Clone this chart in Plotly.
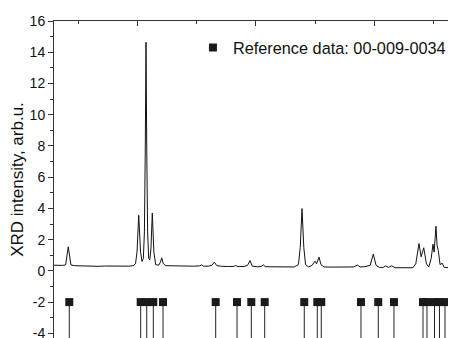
import plotly.graph_objects as go

two_theta = [5.94, 6.5, 7.4, 7.9, 8.35, 8.8, 9.4, 10.5, 11.5, 12.5, 13.5, 14.5, 15.5, 16.5,
             17.5, 18.5, 19.3, 19.7, 19.95, 20.24, 20.55, 20.8, 21.02, 21.2, 21.35, 21.47,
             21.59, 21.74, 21.92, 22.1, 22.3, 22.53, 22.8, 23.1, 23.6, 23.9, 24.12, 24.4,
             24.8, 25.5, 26.5, 27.5, 28.5, 29.5, 30.5, 30.87, 31.2, 32.0, 32.6, 33.0, 33.4,
             34.2, 35.2, 36.2, 36.61, 37.0, 38.0, 38.6, 39.02, 39.4, 40.3, 40.9, 41.27, 41.6,
             42.5, 43.5, 44.5, 45.5, 46.5, 47.2, 47.5, 47.8, 48.1, 48.4, 48.9, 49.5, 49.99,
             50.25, 50.67, 51.0, 51.5, 52.5, 53.5, 54.5, 55.5, 56.5, 57.13, 57.6, 58.3, 58.82,
             59.3, 59.83, 60.3, 60.9, 61.5, 61.89, 62.4, 62.94, 63.5, 64.5, 65.5, 66.5, 67.0,
             67.54, 67.9, 68.34, 68.8, 69.2, 69.6, 69.91, 70.1, 70.41, 70.6, 70.8, 71.1, 71.46,
             71.8, 72.5, 73.62]
intensity = [0.36, 0.34, 0.35, 0.38, 1.54, 0.38, 0.33, 0.32, 0.30, 0.31, 0.29, 0.31, 0.30, 0.33,
             0.29, 0.30, 0.33, 0.45, 1.2, 3.56, 1.2, 0.6, 0.8, 2.5, 8.0, 14.64,
             8.0, 2.5, 0.8, 0.7, 1.4, 3.7, 1.2, 0.4, 0.36, 0.55, 0.83, 0.45,
             0.33, 0.32, 0.30, 0.33, 0.31, 0.30, 0.32, 0.38, 0.30, 0.30, 0.36, 0.56, 0.34,
             0.29, 0.28, 0.28, 0.34, 0.27, 0.28, 0.35, 0.66, 0.30, 0.26, 0.28, 0.38, 0.27,
             0.26, 0.25, 0.26, 0.24, 0.25, 0.40, 1.5, 3.99, 1.5, 0.40, 0.25, 0.35, 0.62,
             0.45, 0.88, 0.40, 0.25, 0.24, 0.25, 0.23, 0.24, 0.25, 0.37, 0.25, 0.26, 0.32,
             0.35, 1.07, 0.35, 0.22, 0.22, 0.32, 0.22, 0.32, 0.20, 0.20, 0.21, 0.20, 0.45,
             1.75, 0.9, 1.48, 0.45, 0.25, 0.8, 1.71, 1.2, 2.86, 1.6, 1.3, 0.40, 0.49,
             0.22, 0.20, 0.20]

# Reference pattern 00-009-0034 line positions
ref_positions = [8.52, 20.57, 21.59, 22.70, 24.34, 33.23, 36.83, 39.24, 41.50, 48.18,
                 50.38, 51.05, 57.75, 60.67, 63.32, 68.22, 68.89, 70.16, 71.0, 71.93]
ref_level = -2
ref_bottom = -5

y_ticks = [-4, -2, 0, 2, 4, 6, 8, 10, 12, 14, 16]

FONT = "Arial, 'Liberation Sans', sans-serif"

stem_x, stem_y = [], []
for p in ref_positions:
    stem_x += [p, p, None]
    stem_y += [ref_level, ref_bottom, None]

fig = go.Figure()
fig.add_trace(go.Scatter(x=two_theta, y=intensity, mode="lines",
                         line=dict(color="#111111", width=1), showlegend=False,
                         hoverinfo="skip"))
fig.add_trace(go.Scatter(x=stem_x, y=stem_y, mode="lines",
                         line=dict(color="#222222", width=1), showlegend=False,
                         hoverinfo="skip"))
fig.add_trace(go.Scatter(x=ref_positions, y=[ref_level] * len(ref_positions), mode="markers",
                         marker=dict(symbol="square", size=8, color="#1a1a1a"),
                         name="Reference data: 00-009-0034"))

fig.update_layout(
    width=448, height=340,
    margin=dict(l=46, r=1, t=13, b=10),
    paper_bgcolor="white", plot_bgcolor="white",
    font=dict(family=FONT, color="#111111", size=14),
    legend=dict(x=0.3465, y=0.9155, xanchor="left", yanchor="middle",
                font=dict(size=16.3, family=FONT), bgcolor="rgba(0,0,0,0)",
                itemwidth=30),
    xaxis=dict(range=[5.94, 73.62], side="top", showgrid=False, zeroline=False,
               showline=True, linecolor="#333333", linewidth=1, mirror=True,
               ticks="inside", ticklen=5, tickcolor="#333333", tick0=0, dtick=20,
               showticklabels=False,
               minor=dict(ticks="inside", ticklen=3, dtick=10, tick0=0, tickcolor="#333333")),
    yaxis=dict(range=[-4.3, 16], showgrid=False, zeroline=False,
               showline=True, linecolor="#333333", linewidth=1, mirror=True,
               ticks="outside", ticklen=5, tickcolor="#333333",
               tickvals=y_ticks, ticktext=[str(v) for v in y_ticks],
               tickfont=dict(size=14, family=FONT), ticklabeloverflow="allow",
               minor=dict(ticks="outside", ticklen=3, dtick=1, tick0=0, tickcolor="#333333"),
               title=dict(text="XRD intensity, arb.u.", font=dict(size=17, family=FONT),
                          standoff=7)),
)

fig.write_html("out.html")
